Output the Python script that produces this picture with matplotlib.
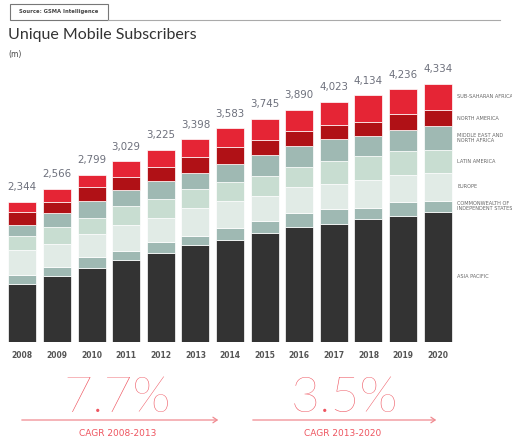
import matplotlib
matplotlib.use("Agg")
import matplotlib.pyplot as plt
from matplotlib.patches import Rectangle, FancyArrowPatch
import numpy as np

years = ["2008", "2009", "2010", "2011", "2012", "2013", "2014",
         "2015", "2016", "2017", "2018", "2019", "2020"]
totals = ["2,344", "2,566", "2,799", "3,029", "3,225", "3,398", "3,583",
          "3,745", "3,890", "4,023", "4,134", "4,236", "4,334"]

asia_pacific = [969, 1109, 1236, 1382, 1499, 1633, 1707, 1824, 1930, 1985, 2057, 2113, 2184]
cis = [156, 151, 184, 151, 179, 151, 201, 201, 229, 241, 184, 235, 179]
europe = [419, 390, 390, 424, 397, 459, 452, 430, 436, 424, 474, 457, 474]
latin_america = [234, 273, 273, 325, 318, 318, 323, 335, 340, 390, 397, 392, 385]
mena = [190, 241, 275, 273, 307, 278, 307, 352, 352, 358, 335, 357, 397]
north_america = [208, 184, 235, 218, 235, 268, 275, 246, 251, 240, 240, 268, 273]
ssa = [168, 218, 206, 256, 290, 291, 318, 357, 352, 385, 447, 414, 442]

series = [asia_pacific, cis, europe, latin_america, mena, north_america, ssa]
series_labels = ["ASIA PACIFIC", "COMMONWEALTH OF\nINDEPENDENT STATES", "EUROPE",
                 "LATIN AMERICA", "MIDDLE EAST AND\nNORTH AFRICA", "NORTH AMERICA",
                 "SUB-SAHARAN AFRICA"]
colors = ["#333333", "#9fb9b3", "#e1ebe6", "#c8ddd1", "#9fb9b3", "#b01116", "#e52535"]

cagr_values = ["7.7%", "3.5%"]
cagr_labels = ["CAGR 2008-2013", "CAGR 2013-2020"]

W, H = 512, 442
fig = plt.figure(figsize=(W / 100, H / 100), dpi=100)

ax_left, ax_right, ax_top, ax_bottom = 5, 455, 70, 342
ax = fig.add_axes([ax_left / W, (H - ax_bottom) / H,
                   (ax_right - ax_left) / W, (ax_bottom - ax_top) / H])
x = np.arange(len(years))
bottom = np.zeros(len(years))
for vals, col in zip(series, colors):
    v = np.array(vals, dtype=float)
    ax.bar(x, v, bottom=bottom, width=0.81, color=col, edgecolor="white", linewidth=0.5)
    bottom += v

ax.set_xlim(-0.5, 12.5)
ax.set_ylim(0, (ax_bottom - ax_top) * 16.77)
ax.axis("off")

for xi, tot, lab in zip(x, bottom, totals):
    ax.annotate(lab, (xi, tot), xytext=(0, 8.5), textcoords="offset points",
                ha="center", va="baseline", fontsize=8.2, color="#6d707c",
                family=["DejaVu Sans"], fontstretch="condensed")

for xi, yr in zip(x, years):
    ax.annotate(yr, (xi, 0), xytext=(0, -10), textcoords="offset points",
                ha="center", va="center", fontsize=5.5, color="#555555",
                fontweight="bold", family=["DejaVu Sans"])

cum = 0.0
for vals, lab in zip(series, series_labels):
    mid = cum + vals[-1] / 2
    cum += vals[-1]
    ax.annotate(lab, (12.5, mid), xytext=(1.5, 0), textcoords="offset points",
                ha="left", va="center", fontsize=3.6, color="#666666",
                linespacing=1.0, annotation_clip=False)

# header
fig.patches.append(Rectangle((10 / W, 1 - 19.5 / H), 98 / W, 15.5 / H,
                             transform=fig.transFigure, facecolor="white",
                             edgecolor="#777777", linewidth=0.8))
fig.lines.append(plt.Line2D([108 / W, 500 / W], [1 - 19.5 / H, 1 - 19.5 / H],
                            transform=fig.transFigure, color="#aaaaaa", linewidth=0.8))
fig.text(59 / W, 1 - 11.5 / H, "Source: GSMA Intelligence", ha="center", va="center",
         fontsize=3.8, fontweight="bold", color="#444444")
fig.text(8 / W, 1 - 35 / H, "Unique Mobile Subscribers", ha="left", va="center",
         fontsize=11.5, color="#333333", family=["Lato", "DejaVu Sans"])
fig.text(8 / W, 1 - 55 / H, "(m)", ha="left", va="center",
         fontsize=5.5, color="#444444")

# CAGR section
red = "#ee5560"
big_x = [117, 344]
arrow_x = [(19, 221), (250, 439)]
for val, lab, bx, (a0, a1) in zip(cagr_values, cagr_labels, big_x, arrow_x):
    fig.text(bx / W, 1 - 412 / H, val, ha="center", va="baseline",
             fontsize=36, color=red, fontweight="light",
             family=["Lato", "DejaVu Sans"])
    arr = FancyArrowPatch((a0 / W, 1 - 420 / H), (a1 / W, 1 - 420 / H),
                          transform=fig.transFigure, arrowstyle="->,head_length=3,head_width=2",
                          color="#f08a90", linewidth=0.9, mutation_scale=1)
    fig.patches.append(arr)
    fig.text(((a0 + a1) / 2 - 2) / W, 1 - 433 / H, lab, ha="center", va="center",
             fontsize=6.5, color=red)

fig.savefig("out.png", dpi=100, facecolor="white")
